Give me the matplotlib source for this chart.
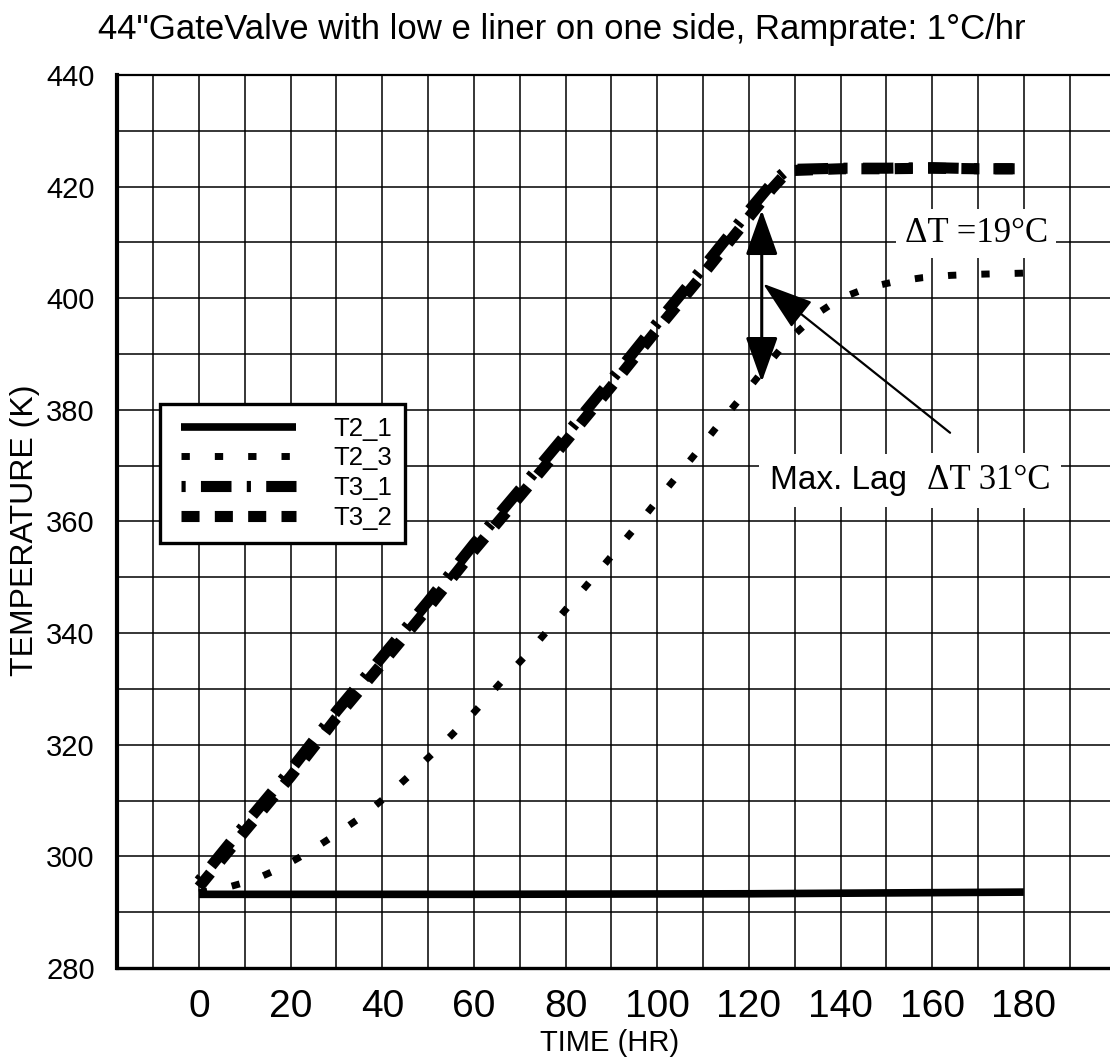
import matplotlib
matplotlib.use('Agg')
import matplotlib.pyplot as plt
from matplotlib.patches import ArrowStyle
from matplotlib.lines import Line2D
from matplotlib.legend_handler import HandlerLine2D

# ---------------- data ----------------
time_T2_1 = [0, 60, 120, 180]
T2_1 = [293.2, 293.2, 293.3, 293.6]

time_T2_3 = [0, 6, 12, 18, 24, 30, 36, 42, 48, 54, 60, 66, 72, 78, 84, 90, 96,
             102, 108, 114, 120, 125, 128, 131, 135, 140, 146, 152, 158, 164,
             170, 180]
T2_3 = [293.5, 294.4, 295.8, 298.0, 300.8, 304.0, 307.4, 311.5, 316.1, 320.8,
        325.8, 331.3, 336.6, 342.3, 348.0, 353.8, 359.7, 365.8, 371.8, 378.0,
        383.9, 389.0, 392.0, 394.3, 397.3, 400.0, 401.9, 403.0, 403.7, 404.1,
        404.3, 404.5]

time_T3 = [0, 10, 20, 30, 40, 50, 60, 70, 80, 90, 100, 110, 120, 125, 128,
           130, 140, 150, 160, 170, 178]
T3_1 = [295.6, 305.7, 315.5, 326.0, 335.8, 345.7, 356.0, 365.7, 375.5, 385.4,
        395.6, 405.5, 415.7, 420.6, 422.8, 423.1, 423.3, 423.3, 423.4, 423.2,
        423.2]
T3_2 = [294.5, 304.5, 314.3, 324.8, 334.6, 344.5, 354.8, 364.5, 374.3, 384.2,
        394.4, 404.3, 414.5, 419.6, 422.3, 422.9, 423.2, 423.2, 423.3, 423.2,
        423.2]

series_labels = ['T2_1', 'T2_3', 'T3_1', 'T3_2']
x_ticks = [0, 20, 40, 60, 80, 100, 120, 140, 160, 180]
y_ticks = [280, 300, 320, 340, 360, 380, 400, 420, 440]

title = '44"GateValve with low e liner on one side, Ramprate: 1°C/hr'
xlabel = 'TIME (HR)'
ylabel = 'TEMPERATURE (K)'

lag_x = 122.8
lag_top = 415.8
lag_bottom = 385.0

# ---------------- figure ----------------
plt.rcParams['lines.scale_dashes'] = False
plt.rcParams['font.family'] = ['Liberation Sans', 'DejaVu Sans']

fig = plt.figure(figsize=(11.10, 10.61), dpi=100)
ax = fig.add_axes([117/1110, 93/1061, 993/1110, 893/1061])

ax.plot(time_T2_1, T2_1, color='k', lw=5.5, solid_capstyle='butt',
        label=series_labels[0], zorder=3)
ax.plot(time_T2_3, T2_3, color='k', lw=5, linestyle=(0, (6, 18)),
        dash_capstyle='butt', label=series_labels[1], zorder=3)
ax.plot(time_T3, T3_1, color='k', lw=8, linestyle=(0, (3, 11, 22, 11)),
        dash_capstyle='butt', label=series_labels[2], zorder=3)
ax.plot(time_T3, T3_2, color='k', lw=8, linestyle=(0, (13, 11)),
        dash_capstyle='butt', label=series_labels[3], zorder=3)

ax.set_xlim(-17.9, 198.8)
ax.set_ylim(280, 440)
ax.set_xticks(x_ticks)
ax.set_xticks([v for v in range(-10, 200, 10)], minor=True)
ax.set_yticks(y_ticks)
ax.set_yticks([v for v in range(290, 440, 10)], minor=True)
ax.tick_params(which='both', length=0)
ax.tick_params(axis='x', labelsize=28, pad=15)
ax.tick_params(axis='y', labelsize=21, pad=16)
ax.grid(which='both', color='k', lw=1.1)
ax.set_axisbelow(True)

ax.spines['right'].set_visible(False)
ax.spines['left'].set_linewidth(3)
ax.spines['bottom'].set_linewidth(2.4)
ax.spines['top'].set_linewidth(1.6)

# legend
leg = ax.legend(loc='upper left', bbox_to_anchor=(0.0433, 0.6316),
                borderaxespad=0, fontsize=18.5, handlelength=4.79,
                handletextpad=1.44, labelspacing=0.22, borderpad=0.5,
                fancybox=False, framealpha=1, edgecolor='k',
                handler_map={Line2D: HandlerLine2D(xpad=0.31)})
leg.get_frame().set_linewidth(2.4)

# annotations
head = ArrowStyle('<|-|>', head_length=2.8, head_width=1.0)
ax.annotate('', xy=(lag_x, lag_top), xytext=(lag_x, lag_bottom),
            arrowprops=dict(arrowstyle=head, mutation_scale=10, lw=2.2,
                            color='k', shrinkA=0, shrinkB=0), zorder=5)
ax.annotate('', xy=(123.1, 402.6), xytext=(163.9, 375.9),
            arrowprops=dict(arrowstyle=ArrowStyle('-|>', head_length=3.2,
                                                  head_width=1.05),
                            mutation_scale=10, lw=1.6, color='k',
                            shrinkA=0, shrinkB=0), zorder=5)

ax.text(154.0, 411.6, 'ΔT =19°C', family=['Liberation Serif', 'DejaVu Serif'],
        fontsize=25, ha='left', va='center', zorder=6,
        bbox=dict(facecolor='white', edgecolor='none', pad=6))
ax.text(124.6, 367.4, 'Max. Lag', fontsize=24, ha='left', va='center',
        zorder=6, bbox=dict(facecolor='white', edgecolor='none', pad=8))
ax.text(158.8, 367.4, 'ΔT 31°C', family=['Liberation Serif', 'DejaVu Serif'],
        fontsize=25, ha='left', va='center', zorder=6,
        bbox=dict(facecolor='white', edgecolor='none', pad=8))

fig.text(562/1110, 1 - 30/1061, title, fontsize=25, ha='center', va='center')
fig.text(610/1110, 1 - 1043/1061, xlabel, fontsize=21, ha='center', va='center')
fig.text(25/1110, 1 - 530/1061, ylabel, fontsize=23, ha='center', va='center',
         rotation=90)

fig.savefig('out.png', dpi=100)
